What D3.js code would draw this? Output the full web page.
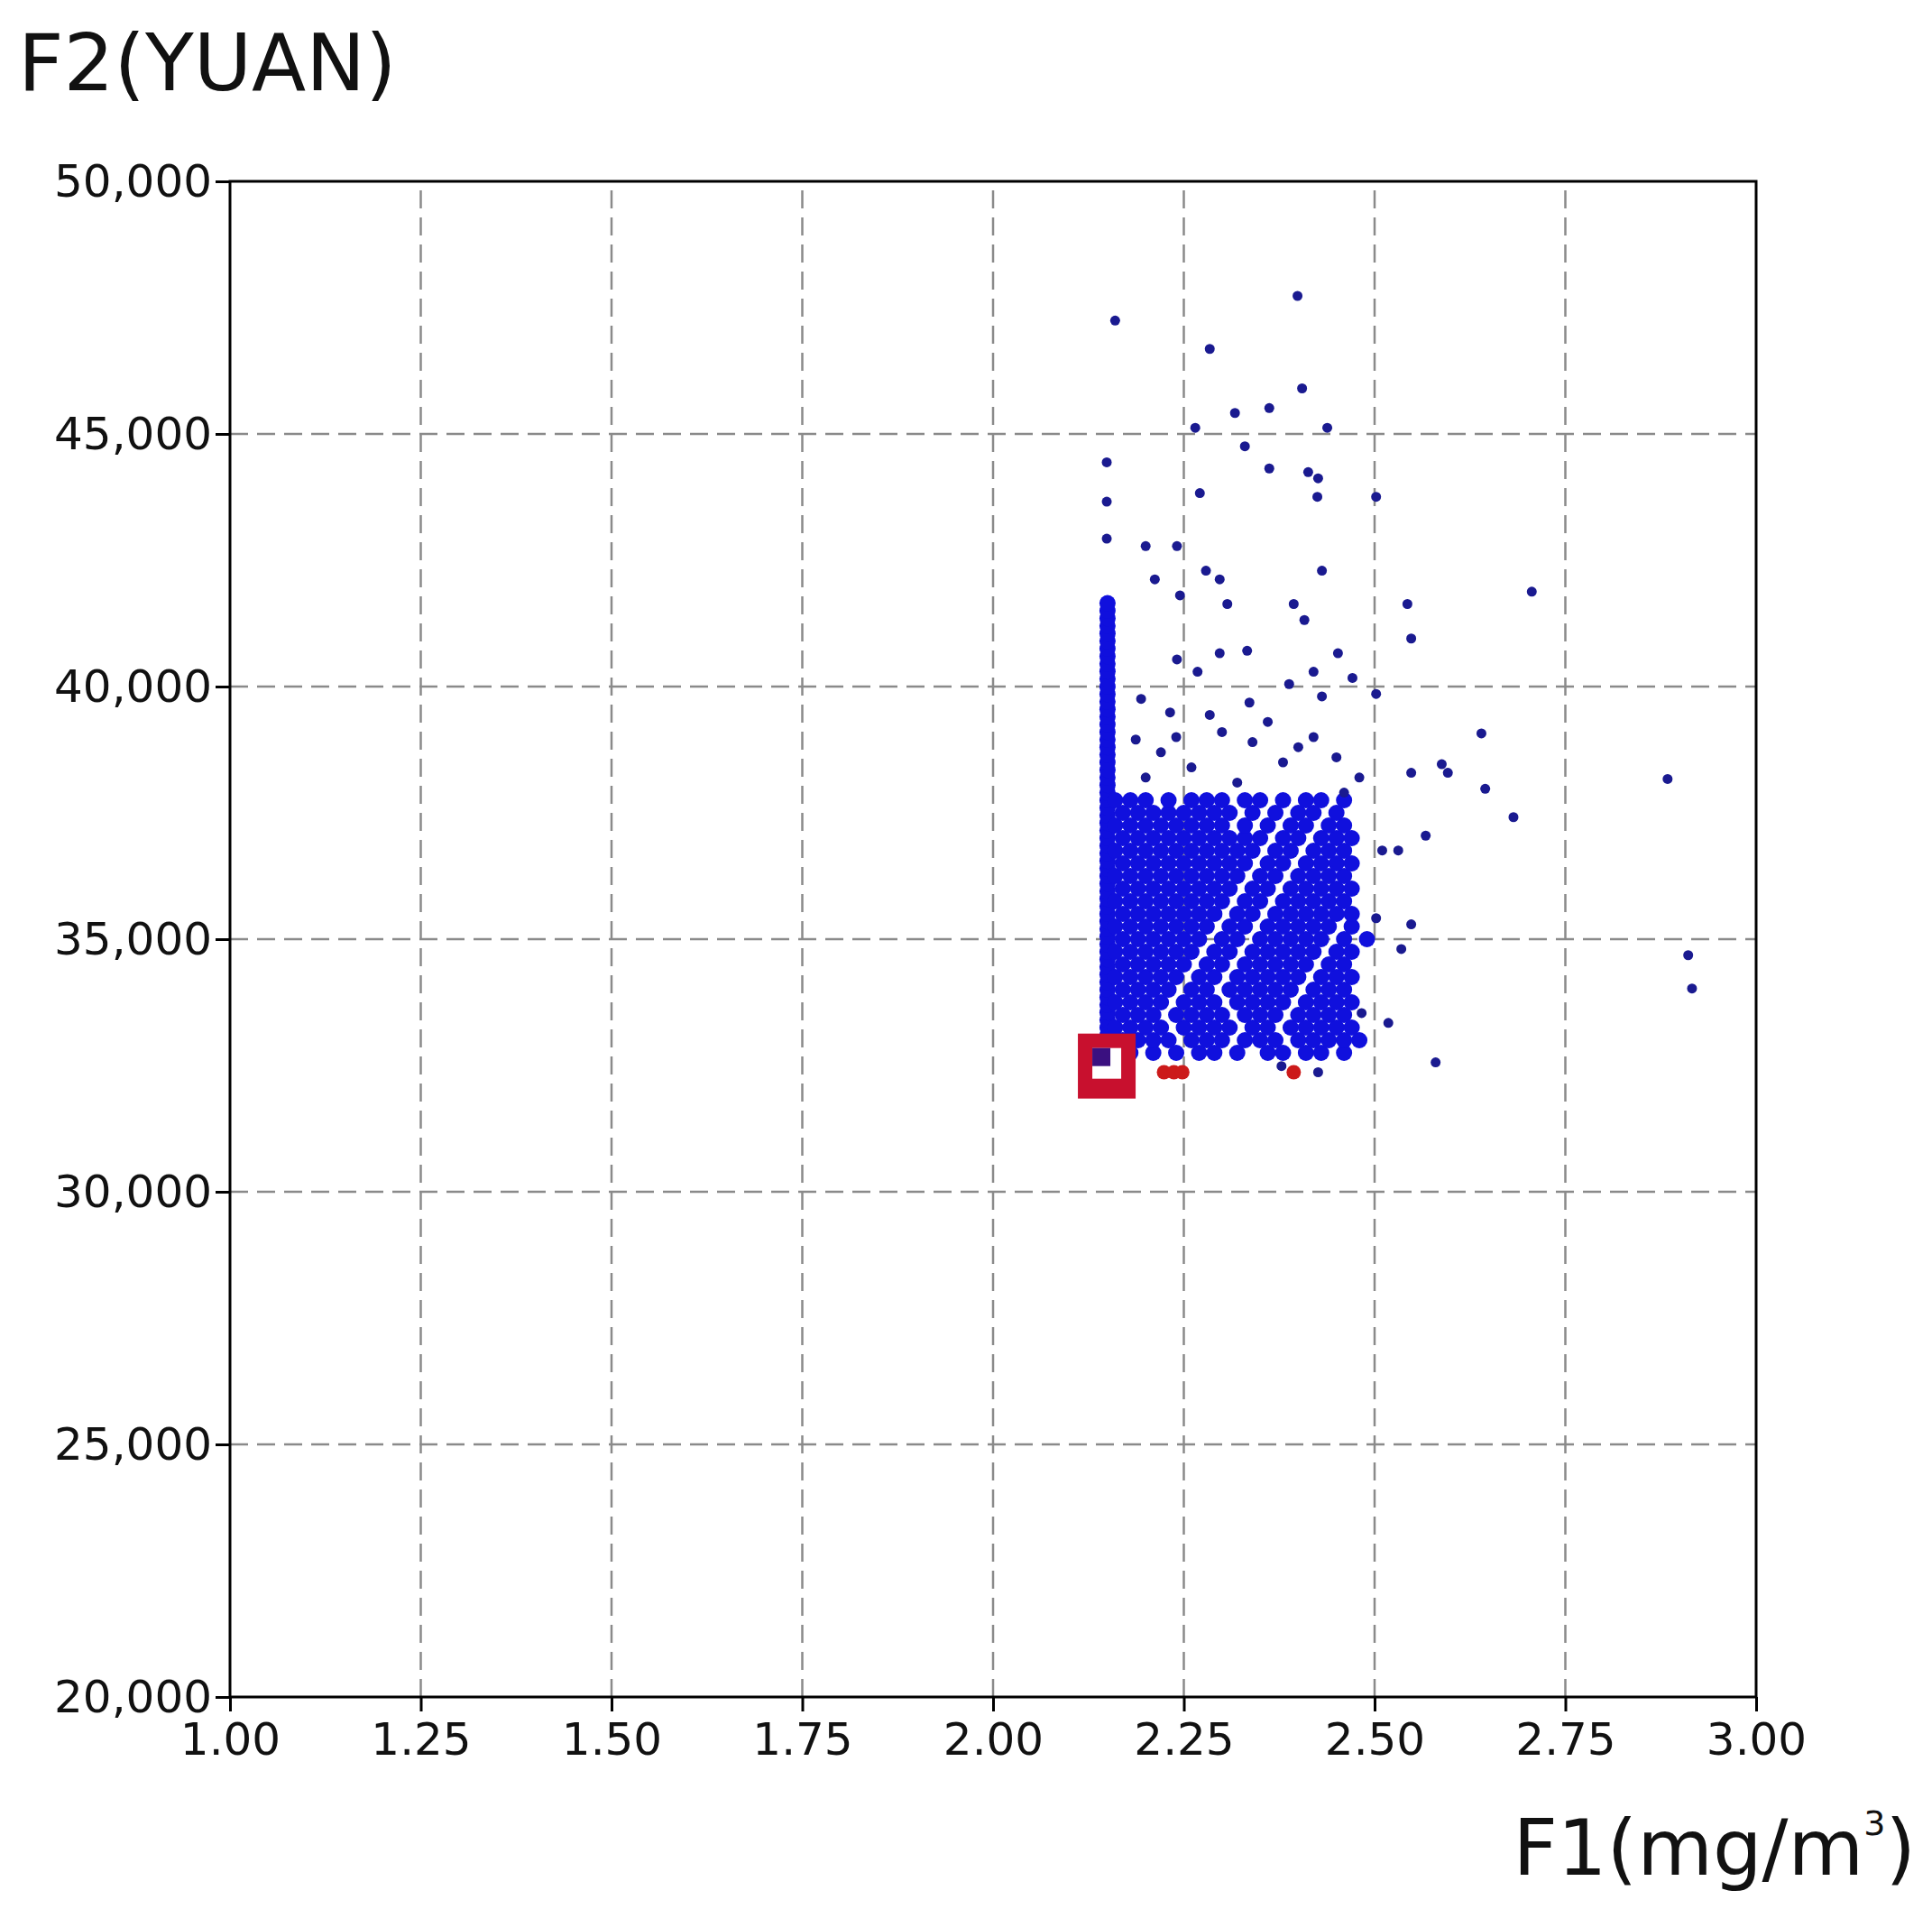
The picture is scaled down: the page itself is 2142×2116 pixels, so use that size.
<!DOCTYPE html>
<html>
<head>
<meta charset="utf-8">
<script src="https://cdn.jsdelivr.net/npm/d3@7"></script>
<style>
  body { margin: 0; background: #fff; }
  text { font-family: "DejaVu Sans", sans-serif; }
</style>
</head>
<body>
<svg id="chart" width="2142" height="2116"></svg>
<script>
// tick values
var xTicks = [1.00, 1.25, 1.50, 1.75, 2.00, 2.25, 2.50, 2.75, 3.00];
var yTicks = [20000, 25000, 30000, 35000, 40000, 45000, 50000];

// scattered points
var outliers = [
  [2.160, 47244], [2.399, 47732], [2.284, 46683], [2.405, 45902], [2.438, 45122],
  [2.265, 45122], [2.317, 45415], [2.362, 45512], [2.330, 44756], [2.362, 44317],
  [2.149, 44439], [2.413, 44244], [2.426, 44122], [2.425, 43756], [2.271, 43830],
  [2.502, 43756], [2.149, 43659], [2.149, 42927], [2.200, 42780], [2.241, 42780],
  [2.212, 42122], [2.279, 42293], [2.297, 42122], [2.431, 42293], [2.245, 41805],
  [2.307, 41634], [2.706, 41878], [2.543, 41634], [2.548, 40951], [2.394, 41634],
  [2.408, 41317], [2.297, 40659], [2.241, 40537], [2.333, 40708], [2.268, 40293],
  [2.420, 40293], [2.452, 40659], [2.471, 40171], [2.502, 39854], [2.388, 40049],
  [2.194, 39756], [2.232, 39488], [2.284, 39439], [2.336, 39683], [2.431, 39805],
  [2.640, 39073], [2.187, 38951], [2.548, 38293], [2.588, 38463], [2.596, 38293],
  [2.645, 37976], [2.884, 38171], [2.682, 37415], [2.510, 36756], [2.531, 36756],
  [2.567, 37049], [2.502, 35415], [2.548, 35293], [2.535, 34805], [2.911, 34683],
  [2.916, 34024], [2.518, 33342], [2.483, 33537], [2.580, 32561], [2.426, 32366],
  [2.378, 32488], [2.300, 39100], [2.340, 38900], [2.400, 38800], [2.450, 38600],
  [2.220, 38700], [2.260, 38400], [2.360, 39300], [2.420, 39000], [2.480, 38200],
  [2.200, 38200], [2.320, 38100], [2.380, 38500], [2.460, 37900], [2.240, 39000]
];

// vertical column at the lower bound of F1
var columnX = 2.15;
var columnY = [32800, 32950, 33100, 33250, 33400, 33550, 33700, 33850, 34000, 34150,
  34300, 34450, 34600, 34750, 34900, 35050, 35200, 35350, 35500, 35650, 35800, 35950,
  36100, 36250, 36400, 36550, 36700, 36850, 37000, 37150, 37300, 37450, 37600, 37750,
  37900, 38050, 38200, 38350, 38500, 38650, 38800, 38950, 39100, 39250, 39400, 39550,
  39700, 39850, 40000, 40150, 40300, 40450, 40600, 40750, 40900, 41050, 41200, 41350,
  41500, 41650];

// dense cluster, one row of F1 values per F2 level
var clusterY = [32750, 33000, 33250, 33500, 33750, 34000, 34250, 34500, 34750, 35000,
  35250, 35500, 35750, 36000, 36250, 36500, 36750, 37000, 37250, 37500, 37750];
var clusterX = [
  [2.16, 2.18, 2.21, 2.24, 2.27, 2.29, 2.32, 2.36, 2.38, 2.41, 2.43, 2.46],
  [2.17, 2.19, 2.21, 2.23, 2.26, 2.28, 2.30, 2.33, 2.35, 2.37, 2.40, 2.42, 2.44, 2.46, 2.48],
  [2.16, 2.18, 2.20, 2.22, 2.25, 2.27, 2.29, 2.31, 2.34, 2.36, 2.39, 2.41, 2.43, 2.45, 2.47],
  [2.17, 2.19, 2.21, 2.24, 2.26, 2.28, 2.30, 2.33, 2.35, 2.37, 2.40, 2.42, 2.44, 2.46],
  [2.16, 2.18, 2.20, 2.22, 2.25, 2.27, 2.29, 2.32, 2.34, 2.36, 2.38, 2.41, 2.43, 2.45, 2.47],
  [2.17, 2.19, 2.21, 2.23, 2.26, 2.28, 2.31, 2.33, 2.35, 2.37, 2.39, 2.42, 2.44, 2.46],
  [2.16, 2.18, 2.20, 2.22, 2.24, 2.27, 2.29, 2.32, 2.34, 2.36, 2.38, 2.40, 2.43, 2.45, 2.47],
  [2.17, 2.19, 2.21, 2.23, 2.25, 2.28, 2.30, 2.33, 2.35, 2.37, 2.39, 2.41, 2.44, 2.46],
  [2.16, 2.18, 2.20, 2.22, 2.24, 2.26, 2.29, 2.31, 2.34, 2.36, 2.38, 2.40, 2.42, 2.45, 2.47],
  [2.17, 2.19, 2.21, 2.23, 2.25, 2.27, 2.30, 2.32, 2.35, 2.37, 2.39, 2.41, 2.43, 2.46, 2.49],
  [2.16, 2.18, 2.20, 2.22, 2.24, 2.26, 2.28, 2.31, 2.33, 2.36, 2.38, 2.40, 2.42, 2.44, 2.47],
  [2.17, 2.19, 2.21, 2.23, 2.25, 2.27, 2.29, 2.32, 2.34, 2.37, 2.39, 2.41, 2.43, 2.45, 2.47],
  [2.16, 2.18, 2.20, 2.22, 2.24, 2.26, 2.28, 2.30, 2.33, 2.35, 2.38, 2.40, 2.42, 2.44, 2.46],
  [2.17, 2.19, 2.21, 2.23, 2.25, 2.27, 2.29, 2.31, 2.34, 2.36, 2.39, 2.41, 2.43, 2.45, 2.47],
  [2.16, 2.18, 2.20, 2.22, 2.24, 2.26, 2.28, 2.30, 2.32, 2.35, 2.37, 2.40, 2.42, 2.44, 2.46],
  [2.17, 2.19, 2.21, 2.23, 2.25, 2.27, 2.29, 2.31, 2.33, 2.36, 2.38, 2.41, 2.43, 2.45, 2.47],
  [2.16, 2.18, 2.20, 2.22, 2.24, 2.26, 2.28, 2.30, 2.32, 2.34, 2.37, 2.39, 2.42, 2.44, 2.46],
  [2.17, 2.19, 2.21, 2.23, 2.25, 2.27, 2.29, 2.31, 2.33, 2.35, 2.38, 2.40, 2.43, 2.45, 2.47],
  [2.16, 2.18, 2.20, 2.22, 2.24, 2.26, 2.28, 2.30, 2.33, 2.36, 2.39, 2.41, 2.44, 2.46],
  [2.17, 2.19, 2.21, 2.23, 2.25, 2.27, 2.29, 2.31, 2.34, 2.37, 2.40, 2.42, 2.45],
  [2.16, 2.18, 2.20, 2.23, 2.26, 2.28, 2.30, 2.33, 2.35, 2.38, 2.41, 2.43, 2.46]
];

// red highlighted points and the marked optimum
var redPoints = [[2.224, 32366], [2.237, 32366], [2.248, 32366], [2.394, 32366]];
var markPoint = [2.149, 32488];

var svg = d3.select('#chart');
var m = {left: 255, right: 195, top: 201, bottom: 235};
var W = 2142, H = 2116;

var x = d3.scaleLinear().domain([1, 3]).range([m.left, W - m.right]);
var y = d3.scaleLinear().domain([20000, 50000]).range([H - m.bottom, m.top]);

// grid
svg.append('g').selectAll('line')
  .data(xTicks.slice(1, -1))
  .enter().append('line')
  .attr('x1', x).attr('x2', x)
  .attr('y1', y(20000)).attr('y2', y(50000))
  .attr('stroke', '#8a8a8a').attr('stroke-width', 2.5).attr('stroke-dasharray', '20,10');

svg.append('g').selectAll('line')
  .data(yTicks.slice(1, -1))
  .enter().append('line')
  .attr('y1', y).attr('y2', y)
  .attr('x1', x(1)).attr('x2', x(3))
  .attr('stroke', '#8a8a8a').attr('stroke-width', 2.5).attr('stroke-dasharray', '20,10');

// points
var pts = [];
columnY.forEach(function(v) { pts.push([columnX, v]); });
clusterY.forEach(function(v, i) {
  clusterX[i].forEach(function(u) { pts.push([u, v]); });
});

svg.append('g').selectAll('circle')
  .data(pts)
  .enter().append('circle')
  .attr('cx', function(d) { return x(d[0]); })
  .attr('cy', function(d) { return y(d[1]); })
  .attr('r', 9)
  .attr('fill', '#1010dd');

svg.append('g').selectAll('circle')
  .data(outliers)
  .enter().append('circle')
  .attr('cx', function(d) { return x(d[0]); })
  .attr('cy', function(d) { return y(d[1]); })
  .attr('r', 5.5)
  .attr('fill', '#1a1a90');

svg.append('g').selectAll('circle')
  .data(redPoints)
  .enter().append('circle')
  .attr('cx', function(d) { return x(d[0]); })
  .attr('cy', function(d) { return y(d[1]); })
  .attr('r', 8)
  .attr('fill', '#cc1a1a');

svg.append('rect')
  .attr('x', x(markPoint[0]) - 32).attr('y', y(markPoint[1]) - 36)
  .attr('width', 64).attr('height', 72)
  .attr('fill', '#c8102e');
svg.append('rect')
  .attr('x', x(markPoint[0]) - 16).attr('y', y(markPoint[1]) - 20)
  .attr('width', 32).attr('height', 34)
  .attr('fill', '#fff');
svg.append('rect')
  .attr('x', x(markPoint[0]) - 16).attr('y', y(markPoint[1]) - 20)
  .attr('width', 20).attr('height', 20)
  .attr('fill', '#3a1080');

// frame
svg.append('rect')
  .attr('x', x(1)).attr('y', y(50000))
  .attr('width', x(3) - x(1)).attr('height', y(20000) - y(50000))
  .attr('fill', 'none').attr('stroke', '#000').attr('stroke-width', 3);

// axes
var xAxis = svg.append('g')
  .attr('transform', 'translate(0,' + y(20000) + ')')
  .call(d3.axisBottom(x).tickValues(xTicks).tickFormat(d3.format('.2f')).tickSize(16).tickPadding(12));
var yAxis = svg.append('g')
  .attr('transform', 'translate(' + x(1) + ',0)')
  .call(d3.axisLeft(y).tickValues(yTicks).tickFormat(d3.format(',')).tickSize(16).tickPadding(4));

[xAxis, yAxis].forEach(function(a) {
  a.select('.domain').remove();
  a.selectAll('line').attr('stroke', '#000').attr('stroke-width', 3);
  a.selectAll('text').attr('font-size', 50).attr('fill', '#111')
    .style('font-family', '"DejaVu Sans", sans-serif');
});

// titles
svg.append('text').attr('x', 20).attr('y', 100)
  .attr('font-size', 88).attr('fill', '#111').text('F2(YUAN)');

var t = svg.append('text').attr('x', 2124).attr('y', 2078)
  .attr('text-anchor', 'end').attr('font-size', 86).attr('fill', '#111');
t.append('tspan').text('F1(mg/m');
t.append('tspan').attr('font-size', 38).attr('dy', -44).text('3');
t.append('tspan').attr('dy', 44).text(')');
</script>
</body>
</html>
